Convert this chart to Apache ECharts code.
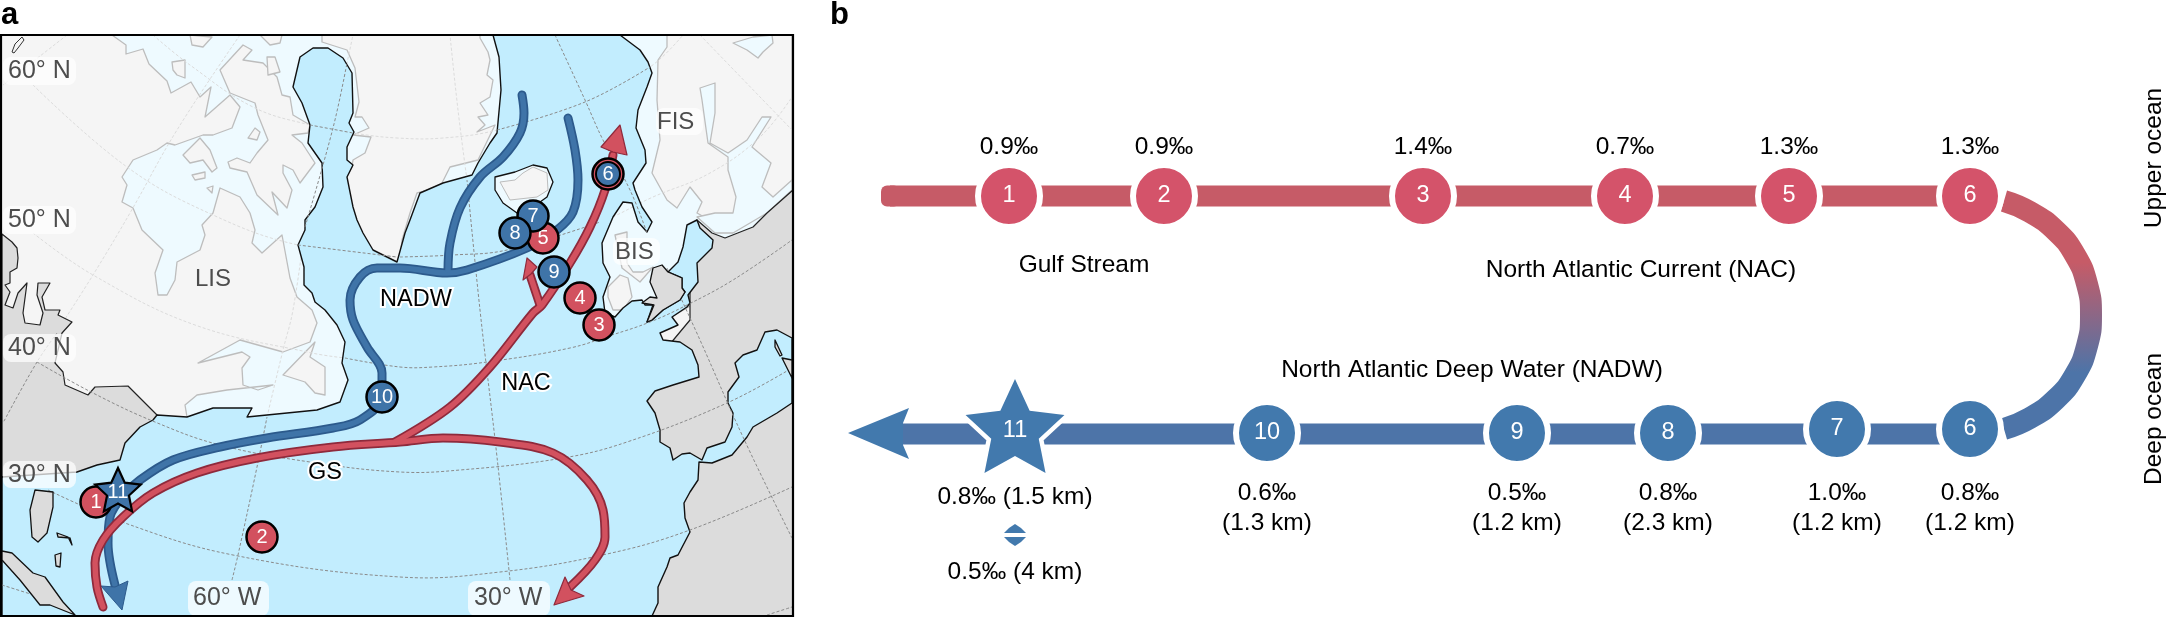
<!DOCTYPE html>
<html>
<head>
<meta charset="utf-8">
<style>
html,body{margin:0;padding:0;background:#fff;}
#chart{width:2167px;height:617px;}
</style>
<script src="https://cdn.jsdelivr.net/npm/echarts@6/dist/echarts.min.js"></script>
</head>
<body>
<div id="chart"></div>
<script>
// panel b values
var upperNames = ['1', '2', '3', '4', '5', '6'];
var upperPos = [1009, 1164, 1423, 1625, 1789, 1970];
var upperVals = ['0.9', '0.9', '1.4', '0.7', '1.3', '1.3'];
var deepNames = ['6', '7', '8', '9', '10'];
var deepPos = [1970, 1837, 1668, 1517, 1267];
var deepLevel = [429, 429, 433, 433, 433];
var deepVals = ['0.8', '1.0', '0.8', '0.5', '0.6'];
var deepKm = ['1.2', '1.2', '2.3', '1.2', '1.3'];
var upperBar = [[890, 196], [1970, 196]];
var upperBarEnd = [[881, 185.5, 900, 206.5]];
var deepBar = [[1970, 434], [895, 434]];
var turnArc = [[2004, 201], [2030, 212], [2056, 231], [2075, 255], [2087, 284], [2091, 315], [2087, 346], [2075, 375], [2056, 399], [2030, 418], [2004, 429]];
var deepHead = [[848, 433], [909, 408], [903, 423], [903, 445], [909, 459]];
var deepStar = [[1015, 431]];
var diamondUp = [[1004, 533], [1009, 528], [1015, 524], [1021, 528], [1026, 533]];
var diamondDown = [[1004, 537], [1026, 537], [1021, 542], [1015, 546], [1009, 542]];

// panel a, land and sea outlines
var oceanOutline = [[493, 35], [620, 35], [640, 50], [648, 62], [652, 73], [647, 87], [638, 110], [636, 128], [645, 150], [646, 163], [633, 183], [635, 190], [642, 207], [652, 222], [647, 232], [638, 222], [632, 203], [623, 202], [613, 217], [602, 243], [603, 263], [610, 277], [603, 297], [605, 313], [615, 317], [623, 308], [632, 301], [642, 300], [645, 305], [653, 305], [647, 322], [652, 320], [663, 310], [680, 300], [685, 292], [682, 288], [682, 278], [668, 272], [678, 262], [683, 247], [687, 225], [697, 220], [700, 228], [713, 240], [712, 248], [697, 263], [698, 282], [688, 295], [690, 303], [687, 307], [672, 317], [678, 325], [660, 333], [663, 340], [680, 342], [692, 350], [698, 365], [699, 377], [673, 385], [655, 391], [647, 401], [655, 413], [660, 430], [660, 442], [670, 448], [673, 460], [682, 454], [690, 453], [702, 460], [707, 448], [725, 442], [732, 427], [733, 413], [728, 403], [728, 392], [739, 377], [735, 363], [743, 355], [757, 350], [765, 332], [777, 330], [792, 338], [792, 403], [777, 413], [753, 427], [747, 437], [732, 455], [712, 463], [699, 462], [698, 480], [690, 492], [684, 503], [685, 518], [690, 532], [678, 555], [670, 558], [667, 567], [658, 587], [658, 603], [652, 616], [2, 616], [2, 477], [77, 472], [97, 465], [120, 460], [125, 443], [140, 427], [153, 420], [157, 415], [187, 417], [213, 408], [252, 408], [247, 417], [267, 415], [317, 410], [340, 402], [348, 380], [342, 363], [345, 342], [337, 325], [325, 310], [315, 302], [312, 293], [304, 285], [304, 267], [298, 245], [305, 230], [305, 220], [315, 207], [323, 187], [322, 163], [308, 143], [310, 125], [302, 103], [293, 87], [300, 57], [313, 48], [328, 48], [343, 58], [352, 73], [353, 113], [349, 123], [354, 132], [347, 147], [347, 160], [353, 165], [347, 177], [353, 207], [357, 220], [363, 233], [373, 250], [397, 262], [405, 233], [410, 220], [420, 193], [443, 183], [472, 175], [478, 163], [490, 143], [497, 133], [501, 90], [499, 57]];
var iceWest = [[112, 35], [126, 45], [126, 54], [143, 49], [149, 64], [167, 81], [171, 93], [191, 82], [200, 97], [211, 87], [205, 117], [230, 95], [240, 107], [232, 128], [213, 135], [203, 135], [175, 145], [167, 143], [157, 150], [133, 160], [122, 177], [127, 185], [122, 202], [133, 208], [142, 230], [163, 250], [155, 273], [158, 295], [167, 295], [175, 280], [177, 262], [200, 250], [205, 235], [202, 225], [213, 213], [220, 188], [240, 197], [250, 213], [255, 230], [252, 243], [262, 253], [282, 235], [290, 278], [297, 297], [312, 310], [317, 323], [310, 342], [283, 352], [240, 340], [198, 363], [242, 352], [250, 357], [242, 368], [243, 385], [258, 390], [273, 385], [227, 390], [197, 395], [185, 405], [187, 417], [350, 425], [530, 200], [530, 35]];
var iceEast = [[590, 35], [793, 35], [793, 230], [700, 300], [650, 330], [590, 330]];
var iceBaltic = [[700, 88], [715, 83], [715, 113], [710, 143], [728, 153], [747, 140], [762, 117], [771, 117], [752, 147], [771, 163], [762, 187], [773, 197], [792, 180], [792, 190], [767, 213], [733, 233], [715, 233], [697, 217], [715, 213], [733, 213], [736, 197], [728, 170], [728, 157], [708, 143], [702, 100]];
var iceNorth = [[733, 43], [753, 37], [772, 35], [773, 43], [763, 52], [758, 58], [747, 50]];
var landBase = [[2, 35], [793, 35], [793, 616], [2, 616]];
var landBaffin = [[220, 70], [243, 45], [252, 50], [243, 60], [263, 63], [277, 77], [282, 95], [290, 97], [293, 115], [310, 125], [308, 133], [292, 135], [302, 143], [315, 163], [300, 183], [293, 170], [283, 165], [283, 173], [292, 190], [287, 208], [272, 192], [278, 215], [257, 195], [247, 172], [230, 168], [228, 162], [237, 158], [250, 163], [257, 153], [268, 140], [258, 115], [255, 103], [230, 93]];
var landGreenland = [[322, 35], [322, 42], [347, 50], [355, 68], [359, 102], [355, 117], [362, 117], [369, 128], [353, 135], [371, 137], [365, 153], [353, 160], [352, 167], [345, 180], [350, 215], [370, 250], [397, 262], [400, 258], [402, 240], [410, 213], [417, 193], [440, 187], [450, 167], [478, 160], [495, 125], [477, 132], [485, 125], [478, 117], [488, 115], [480, 103], [490, 97], [493, 80], [487, 75], [490, 60], [488, 52], [480, 38], [480, 35]];
var landNewfoundland = [[283, 375], [305, 382], [315, 393], [325, 395], [325, 367], [310, 357], [315, 342]];
var landScandinavia = [[667, 35], [667, 47], [658, 60], [657, 100], [660, 140], [652, 173], [667, 200], [677, 208], [690, 187], [702, 202], [697, 213], [715, 223], [767, 213], [792, 190], [792, 35]];
var landIslesA = [[608, 287], [620, 275], [628, 278], [632, 297], [623, 310], [613, 310], [608, 297]];
var landIslesB = [[615, 235], [627, 232], [627, 263], [633, 272], [643, 272], [653, 267], [640, 282], [622, 268]];
var landSmall = [[[183, 155], [200, 138], [210, 150], [217, 168], [212, 172], [203, 160], [190, 163]], [[192, 175], [205, 172], [205, 178], [195, 180]], [[207, 188], [213, 186], [212, 193]], [[190, 35], [192, 45], [203, 47], [212, 37]], [[172, 62], [185, 60], [185, 78], [177, 75], [173, 70]], [[260, 35], [270, 45], [280, 43], [282, 35]], [[267, 57], [275, 57], [280, 72], [268, 75]], [[248, 138], [255, 128], [260, 132], [257, 140]]];
var arcticIslet = [[12, 52], [15, 44], [22, 37], [24, 40], [18, 48], [14, 53]];
var bareEurope = [[793, 190], [767, 213], [753, 227], [725, 238], [712, 233], [697, 220], [700, 240], [690, 270], [690, 320], [640, 380], [640, 616], [793, 616]];
var bareAmerica = [[2, 234], [12, 242], [17, 248], [18, 258], [17, 268], [10, 272], [10, 283], [5, 285], [10, 292], [5, 305], [13, 308], [18, 293], [27, 283], [23, 313], [25, 323], [40, 325], [43, 313], [37, 295], [38, 283], [50, 283], [42, 297], [45, 310], [60, 310], [58, 315], [72, 322], [62, 333], [55, 363], [63, 372], [65, 385], [88, 395], [95, 387], [128, 386], [157, 415], [160, 425], [120, 470], [2, 480]];
var bareBritain = [[653, 268], [662, 265], [668, 272], [682, 278], [682, 288], [685, 292], [680, 300], [663, 310], [652, 320], [647, 322], [654, 305], [642, 303], [650, 297], [657, 298], [650, 282]];
var bareIslands = [[[35, 490], [30, 510], [32, 537], [38, 542], [47, 533], [53, 507], [53, 492]], [[57, 533], [68, 537], [72, 545], [70, 538], [58, 537]], [[55, 555], [61, 553], [60, 567], [56, 566]], [[2, 551], [12, 553], [33, 573], [45, 577], [63, 602], [75, 615], [50, 605], [40, 605], [20, 580], [2, 560]], [[775, 340], [782, 355], [780, 356], [775, 347]], [[782, 358], [792, 360], [792, 378]]];
var icelandOuter = [[495, 177], [495, 190], [503, 203], [517, 213], [533, 207], [547, 197], [553, 182], [547, 168], [533, 165], [515, 172]];
var icelandInner = [[500, 182], [515, 180], [523, 173], [533, 167], [547, 173], [548, 190], [537, 197], [510, 200]];

// graticule
var gridFaint = [
	[[153, 35], [190, 65], [253, 107], [310, 125], [353, 133], [397, 138], [443, 138], [497, 130], [585, 102], [650, 67], [683, 35]],
	[[33, 85], [127, 167], [213, 215], [298, 245], [397, 257], [453, 255], [507, 250], [600, 222], [653, 197], [710, 173], [760, 137], [792, 97]],
	[[33, 233], [93, 275], [195, 325], [312, 353], [345, 358]],
	[[267, 417], [283, 350], [293, 310], [305, 227]],
	[[333, 128], [347, 63], [353, 35]],
	[[467, 180], [458, 110], [450, 35]],
	[[240, 35], [177, 130], [130, 213], [93, 275], [63, 322]],
	[[700, 35], [792, 130]],
	[[67, 35], [3, 85]]
];
var gridStrong = [
	[[310, 125], [353, 133]],
	[[497, 130], [585, 102], [650, 67]],
	[[298, 245], [397, 257]],
	[[400, 257], [453, 255], [507, 250], [600, 222]],
	[[345, 358], [400, 367], [433, 367], [487, 362], [570, 348], [612, 335], [650, 322], [687, 305], [733, 280], [792, 240]],
	[[37, 362], [93, 393], [155, 422], [220, 445], [310, 462], [400, 472], [460, 470], [563, 458], [627, 442], [727, 403], [792, 368]],
	[[48, 490], [122, 522], [233, 555], [400, 577], [500, 572], [607, 554], [690, 530], [792, 487]],
	[[2, 585], [40, 597]],
	[[767, 615], [792, 607]],
	[[232, 580], [238, 555], [257, 467], [267, 417]],
	[[305, 227], [333, 128], [347, 63]],
	[[510, 580], [497, 457], [480, 310], [467, 180]],
	[[555, 35], [585, 100], [603, 140], [630, 190], [647, 233]],
	[[667, 268], [700, 340], [743, 437], [792, 538]],
	[[57, 333], [37, 362], [3, 423]]
];

// panel a, flow paths
var deepMain = [[115, 585], [108, 543], [110, 517], [122, 497], [140, 480], [173, 460], [220, 447], [267, 438], [333, 428], [360, 420], [382, 397], [382, 373], [367, 347], [353, 320], [350, 300], [360, 277], [377, 268], [400, 268], [447, 273], [467, 270], [527, 248], [557, 230], [573, 212], [578, 180], [575, 150], [568, 118]];
var deepBranch = [[448, 270], [450, 243], [460, 208], [480, 177], [503, 157], [520, 133], [524, 113], [522, 95]];
var gulfStream = [[103, 607], [97, 587], [95, 563], [103, 540], [123, 517], [153, 493], [197, 473], [257, 458], [333, 447], [400, 442], [443, 438], [500, 442], [553, 453], [587, 480], [603, 510], [605, 537], [595, 560], [570, 587]];
var northAtlantic = [[395, 442], [450, 407], [490, 367], [533, 313], [542, 305], [570, 263], [590, 227], [605, 190], [613, 155]];
var northBranch = [[540, 305], [535, 290], [530, 275]];
var headDeep = [[122, 610], [101, 586], [115, 587], [128, 581]];
var headGulf = [[554, 605], [565, 577], [571, 590], [584, 596]];
var headNorth = [[620, 125], [601, 147], [613, 152], [627, 155]];
var headBranch = [[527, 258], [523, 280], [531, 274], [537, 267]];
var redNodes = [[96, 502, '1'], [262, 537, '2'], [580, 298, '4'], [599, 325, '3'], [543, 238, '5']];
var blueNodes = [[382, 397, '10'], [533, 216, '7'], [515, 233, '8'], [554, 272, '9']];
var nodeSix = [[608, 174, '6']];
var mapStar = [[118, 492]];

// label texts
var gridBoxes = [[3, 57, 76, 85], [3, 206, 76, 234], [3, 334, 76, 362], [3, 461, 76, 488], [188, 581, 269, 616], [468, 581, 550, 616], [656, 108, 703, 135], [613, 238, 660, 265]];
var gridTexts = [['60° N', 8, 71], ['50° N', 8, 220], ['40° N', 8, 348], ['30° N', 8, 475], ['60° W', 193, 598], ['30° W', 474, 598]];
var regionTexts = [['LIS', 195, 279], ['FIS', 657, 122], ['BIS', 615, 252]];
var flowTexts = [['NADW', 416, 300], ['NAC', 526, 384], ['GS', 325, 473]];
var panelTexts = [['Gulf Stream', 1084, 265], ['North Atlantic Current (NAC)', 1641, 270], ['North Atlantic Deep Water (NADW)', 1472, 370], ['0.8‰ (1.5 km)', 1015, 497], ['0.5‰ (4 km)', 1015, 572]];
var sideTexts = [['Upper ocean', 2154, 158], ['Deep ocean', 2154, 419]];
var panelLetters = [['a', 1, 15], ['b', 830, 15]];

var FONT = '"Liberation Sans", Arial, sans-serif';
var RED = '#d4536a';
var BLUE = '#4279ad';
var BAR_RED = '#c65b67';
var BAR_BLUE = '#4d74a8';
var MAP_RED = '#d2515f';
var MAP_BLUE = '#3f74a8';

function indexData(list) {
	return list.map(function (p, i) {
		return [i, 0];
	});
}
function polygons(list, fill, stroke, width) {
	return {
		type: 'custom',
		coordinateSystem: 'cartesian2d',
		silent: true,
		data: indexData(list),
		renderItem: function (params, api) {
			var pts = list[params.dataIndex].map(function (p) {
				return api.coord(p);
			});
			return {
				type: 'polygon',
				shape: { points: pts },
				style: { fill: fill, stroke: stroke || null, lineWidth: width || 0, lineJoin: 'round' }
			};
		}
	};
}
function dashes(list, color) {
	return {
		type: 'custom',
		coordinateSystem: 'cartesian2d',
		silent: true,
		data: indexData(list),
		renderItem: function (params, api) {
			var pts = list[params.dataIndex].map(function (p) {
				return api.coord(p);
			});
			return {
				type: 'polyline',
				shape: { points: pts, smooth: 0.4 },
				style: { fill: null, stroke: color, lineWidth: 1, lineDash: [3, 2] }
			};
		}
	};
}
function boxes(list, fill, r) {
	return {
		type: 'custom',
		coordinateSystem: 'cartesian2d',
		silent: true,
		data: indexData(list),
		renderItem: function (params, api) {
			var b = list[params.dataIndex];
			var a = api.coord([b[0], b[1]]);
			var c = api.coord([b[2], b[3]]);
			return {
				type: 'rect',
				shape: { x: a[0], y: a[1], width: c[0] - a[0], height: c[1] - a[1], r: r },
				style: { fill: fill }
			};
		}
	};
}
// [text, x, y] entries
function texts(list, font, fill, align, halo, turned) {
	return {
		type: 'custom',
		coordinateSystem: 'cartesian2d',
		silent: true,
		data: indexData(list),
		renderItem: function (params, api) {
			var t = list[params.dataIndex];
			var c = api.coord([t[1], t[2]]);
			return {
				type: 'text',
				x: c[0],
				y: c[1],
				rotation: turned ? Math.PI / 2 : 0,
				style: {
					text: t[0],
					x: 0,
					y: 0,
					font: font,
					fill: fill,
					textAlign: align,
					textVerticalAlign: 'middle',
					stroke: halo || null,
					lineWidth: halo ? 4 : 0
				}
			};
		}
	};
}
function flowLine(points, color, width) {
	return {
		type: 'line',
		silent: true,
		symbol: 'none',
		smooth: 0.35,
		data: points,
		lineStyle: { color: color, width: width, cap: 'round', join: 'round' }
	};
}
function straightBar(points, color) {
	return {
		type: 'line',
		silent: true,
		symbol: 'none',
		data: points,
		lineStyle: { color: color, width: 21, cap: 'butt' }
	};
}
function nodes(list, size, fill, border, borderWidth, fontSize) {
	return {
		type: 'scatter',
		silent: true,
		symbol: 'circle',
		symbolSize: size,
		data: list,
		itemStyle: { color: fill, borderColor: border, borderWidth: borderWidth, opacity: 1 },
		label: {
			show: true,
			position: 'inside',
			color: '#fff',
			fontFamily: FONT,
			fontSize: fontSize,
			formatter: function (p) {
				return p.value[2];
			}
		}
	};
}
function star(list, radius, fill, stroke, width) {
	return {
		type: 'custom',
		coordinateSystem: 'cartesian2d',
		silent: true,
		data: indexData(list),
		renderItem: function (params, api) {
			var c = api.coord(list[params.dataIndex]);
			var pts = [];
			for (var i = 0; i < 10; i++) {
				var r = i % 2 ? radius * 0.48 : radius;
				var a = -Math.PI / 2 + i * Math.PI / 5;
				pts.push([c[0] + r * Math.cos(a), c[1] + r * Math.sin(a)]);
			}
			return {
				type: 'polygon',
				shape: { points: pts },
				style: { fill: fill, stroke: stroke, lineWidth: width, lineJoin: 'miter' }
			};
		}
	};
}

var upperNodes = upperPos.map(function (x, i) {
	return [x, 196, upperNames[i]];
});
var deepNodes = deepPos.map(function (x, i) {
	return [x, deepLevel[i], deepNames[i]];
});
var upperLabels = upperPos.map(function (x, i) {
	return [upperVals[i] + '‰', x, 147];
});
var deepLabels = [];
deepPos.forEach(function (x, i) {
	deepLabels.push([deepVals[i] + '‰', x, 493]);
	deepLabels.push(['(' + deepKm[i] + ' km)', x, 523]);
});

var series = [
	polygons([landBase], '#f5f5f5'),
	polygons([iceWest, iceEast], '#eefaff', '#bdbdbd', 1.3),
	polygons([landBaffin, landGreenland, landNewfoundland, landScandinavia, landIslesA, landIslesB].concat(landSmall), '#f5f5f5', '#bdbdbd', 1.3),
	polygons([iceBaltic, iceNorth], '#eefaff', '#bdbdbd', 1.3),
	polygons([arcticIslet], '#f5f5f5', '#333', 1),
	dashes(gridFaint, '#dcdcdc'),
	polygons([bareEurope, bareAmerica], '#dcdcdc', '#222', 1.2),
	polygons([oceanOutline], '#c2edfe', '#111', 1.4),
	dashes(gridStrong, '#8a8a8a'),
	polygons([icelandOuter], '#eefaff', '#111', 1.3),
	polygons([icelandInner], '#f5f5f5', '#bdbdbd', 1),
	polygons([bareBritain].concat(bareIslands), '#dcdcdc', '#111', 1.3),
	boxes(gridBoxes, 'rgba(255,255,255,0.72)', 8),
	texts(gridTexts, '25px ' + FONT, '#4d4d4d', 'left'),
	texts(regionTexts, '24px ' + FONT, '#4d4d4d', 'left'),
	texts(flowTexts, '23.5px ' + FONT, '#000', 'center', '#fff'),

	flowLine(deepMain, '#2c5a8c', 9),
	flowLine(deepBranch, '#2c5a8c', 9),
	flowLine(deepMain, MAP_BLUE, 5.5),
	flowLine(deepBranch, MAP_BLUE, 5.5),
	polygons([headDeep], MAP_BLUE, '#2c5a8c', 1),
	flowLine(gulfStream, '#8e2a3c', 9),
	flowLine(northAtlantic, '#8e2a3c', 9),
	flowLine(northBranch, '#8e2a3c', 9),
	flowLine(gulfStream, MAP_RED, 5.5),
	flowLine(northAtlantic, MAP_RED, 5.5),
	flowLine(northBranch, MAP_RED, 5.5),
	polygons([headGulf, headNorth, headBranch], MAP_RED, '#8e2a3c', 1.2),
	nodes(redNodes, 31, MAP_RED, '#000', 2.5, 20),
	nodes(nodeSix, 31, MAP_RED, '#000', 2.5, 20),
	star(mapStar, 24, MAP_BLUE, '#000', 2.2),
	texts([['11', 118, 492]], '20px ' + FONT, '#fff', 'center'),
	nodes(blueNodes, 31, MAP_BLUE, '#000', 2.5, 20),
	nodes(nodeSix, 24, MAP_BLUE, '#000', 2, 20),
	{
		type: 'custom',
		coordinateSystem: 'cartesian2d',
		silent: true,
		data: [[0, 0]],
		renderItem: function (params, api) {
			var a = api.coord([1, 35]);
			var c = api.coord([793, 616]);
			return {
				type: 'rect',
				shape: { x: a[0], y: a[1], width: c[0] - a[0], height: c[1] - a[1] },
				style: { fill: null, stroke: '#000', lineWidth: 2.2 }
			};
		}
	},

	// panel b
	boxes(upperBarEnd, BAR_RED, 6),
	straightBar(upperBar, BAR_RED),
	straightBar(deepBar, BAR_BLUE),
	{
		type: 'line',
		silent: true,
		symbol: 'none',
		smooth: 0.5,
		data: turnArc,
		lineStyle: {
			width: 22,
			cap: 'butt',
			color: {
				type: 'linear',
				x: 0,
				y: 0,
				x2: 0,
				y2: 1,
				colorStops: [
					{ offset: 0, color: BAR_RED },
					{ offset: 0.29, color: BAR_RED },
					{ offset: 0.73, color: BAR_BLUE },
					{ offset: 1, color: BAR_BLUE }
				]
			}
		}
	},
	polygons([deepHead], BLUE),
	nodes(upperNodes, 62, RED, '#fff', 6, 23.5),
	nodes(deepNodes, 62, BLUE, '#fff', 6, 23.5),
	star(deepStar, 52, BLUE, '#fff', 9),
	star(deepStar, 52, BLUE, BLUE, 0),
	texts([['11', 1015, 431]], '23.5px ' + FONT, '#fff', 'center'),
	polygons([diamondUp, diamondDown], BLUE),
	texts(upperLabels, '24.5px ' + FONT, '#000', 'center'),
	texts(deepLabels, '24.5px ' + FONT, '#000', 'center'),
	texts(panelTexts, '24.5px ' + FONT, '#000', 'center'),
	texts(sideTexts, '24.5px ' + FONT, '#000', 'center', null, true),
	texts(panelLetters, 'bold 31px ' + FONT, '#000', 'left')
];
// paint strictly in list order
series.forEach(function (s, i) {
	s.z = i + 2;
});

var myChart = echarts.init(document.getElementById('chart'), null, { renderer: 'canvas' });
myChart.setOption({
	animation: false,
	backgroundColor: '#fff',
	grid: { left: 0, right: 0, top: 0, bottom: 0 },
	xAxis: { type: 'value', min: 0, max: 2167, show: false },
	yAxis: { type: 'value', min: 0, max: 617, inverse: true, show: false },
	series: series
});
</script>
</body>
</html>
